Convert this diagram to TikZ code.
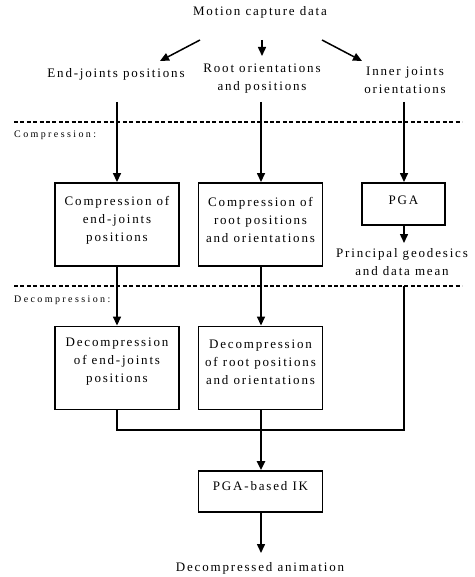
\documentclass[tikz,border=0pt]{standalone}
\usepackage{fontspec}
\setmainfont[LetterSpace=14]{Liberation Serif}
\newfontfamily\smallserif[LetterSpace=24]{Liberation Serif}
\usetikzlibrary{arrows.meta}
\tikzset{
  txt/.style={align=center, inner sep=0pt, font=\fontsize{13}{18}\selectfont},
  small/.style={anchor=west, inner sep=0pt, font=\smallserif\fontsize{10}{12}\selectfont},
  box/.style={draw, line width=1.9pt, minimum width=124pt, minimum height=83pt, inner sep=0pt},
  lbl/.style={align=center, inner sep=0pt, font=\fontsize{13}{18}\selectfont},
  arr/.style={line width=1.5pt, -{Triangle[length=9pt,width=8pt]}},
  ln/.style={line width=1.5pt},
  sep/.style={line width=1.3pt, dash pattern=on 4pt off 2.4pt},
}
\begin{document}
\begin{tikzpicture}[x=1pt,y=-1pt]
\useasboundingbox (0,0) rectangle (474,577);
% top texts
\node[txt] (mcd) at (260,12) {Motion capture data};
\node[txt] (ejp) at (116,74) {End-joints positions};
\node[txt] (rop) at (262,79) {Root orientations\\and positions};
\node[txt] (ijo) at (405,80) {Inner joints\\orientations};
% arrows from top
\coordinate (a1s) at (200,40); \coordinate (a1e) at (160,61);
\coordinate (a2s) at (262,40); \coordinate (a2e) at (262,56);
\coordinate (a3s) at (322,40); \coordinate (a3e) at (362,61);
\draw[arr] (a1s) -- (a1e);
\draw[arr] (a2s) -- (a2e);
\draw[arr] (a3s) -- (a3e);
% separators
\coordinate (d1l) at (14,122); \coordinate (d1r) at (462,122);
\coordinate (d2l) at (14,286); \coordinate (d2r) at (462,286);
\draw[sep] (d1l) -- (d1r);
\draw[sep] (d2l) -- (d2r);
\node[small] (comp) at (14,135) {Compression:};
\node[small] (decomp) at (14,300) {Decompression:};
% compression boxes
\node[box, label={[lbl, name=b1t, yshift=4.5pt]center:{Compression of\\end-joints\\positions}}] (b1) at (117,224.5) {};
\node[box, label={[lbl, name=b2t, yshift=4.5pt]center:{Compression of\\root positions\\and orientations}}] (b2) at (260.5,224.5) {};
\node[box, minimum width=83pt, minimum height=42pt, label={[lbl, name=pgat, yshift=4pt]center:{PGA}}] (pga) at (403.5,204) {};
\node[txt] (pgd) at (402,262) {Principal geodesics\\and data mean};
% decompression boxes
\node[box, label={[lbl, name=b3t, yshift=6pt]center:{Decompression\\of end-joints\\positions}}] (b3) at (117,368) {};
\node[box, label={[lbl, name=b4t, yshift=6pt]center:{Decompression\\of root positions\\and orientations}}] (b4) at (260.5,368) {};
\node[box, minimum height=41pt, label={[lbl, name=ikt, yshift=5pt]center:{PGA-based IK}}] (ik) at (260.5,491.5) {};
\node[txt] (out) at (260,568) {Decompressed animation};
% vertical connectors
\coordinate (v1) at (117,102);
\coordinate (v2) at (261,102);
\coordinate (v3) at (404,102);
\draw[arr] (v1) -- (b1.north);
\draw[arr] (v2) -- (v2 |- b2.north);
\draw[arr] (v3) -- (v3 |- pga.north);
\coordinate (pe) at (404,243);
\draw[arr] (pga.south -| pe) -- (pe);
\draw[arr] (b1.south) -- (b3.north);
\draw[arr] (b2.south -| v2) -- (v2 |- b4.north);
\coordinate (r1) at (404,286);
\coordinate (j) at (261,430);
\draw[ln] (r1) -- (r1 |- j) -- (b3.south |- j) -- (b3.south);
\draw[ln] (b4.south -| j) -- (j);
\draw[arr, line width=2.2pt] (j) -- (j |- ik.north);
\coordinate (oe) at (261,553);
\draw[arr] (ik.south -| oe) -- (oe);
\end{tikzpicture}
\end{document}
